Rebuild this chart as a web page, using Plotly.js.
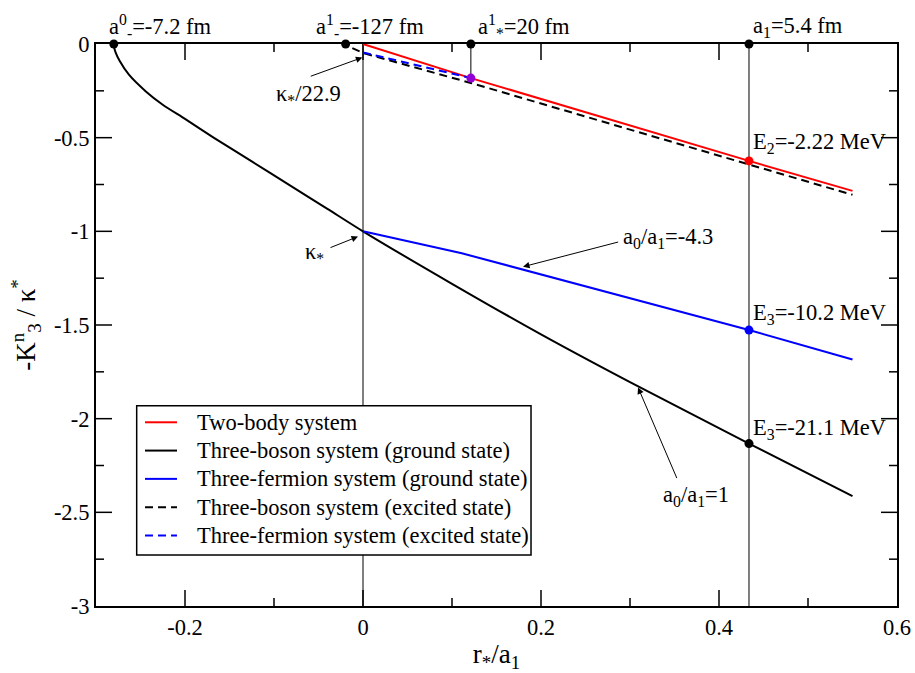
<!DOCTYPE html>
<html>
<head>
<meta charset="utf-8">
<script src="https://cdn.plot.ly/plotly-3.0.1.min.js"></script>
<style>html,body{margin:0;padding:0;background:#fff;}#chart{width:915px;height:673px;}</style>
</head>
<body>
<div id="chart"></div>
<script>
// ---- data ----
const twoBodyX = [0, 0.1212, 0.4337, 0.55];
const twoBodyY = [0, -0.182, -0.624, -0.784];

const bosonGroundX = [-0.280, -0.2795, -0.278, -0.2735, -0.263, -0.244, -0.225, -0.2, -0.167, -0.125, -0.083, -0.04, 0, 0.1, 0.2, 0.3, 0.4337, 0.55];
const bosonGroundY = [0, -0.02, -0.045, -0.09, -0.164, -0.253, -0.324, -0.40, -0.502, -0.627, -0.752, -0.88, -1.0, -1.28, -1.55, -1.805, -2.133, -2.414];

const fermionGroundX = [0, 0.111, 0.4337, 0.55];
const fermionGroundY = [-1, -1.117, -1.527, -1.684];

const bosonExcitedX = [-0.012, -0.006, 0, 0.1212, 0.4337, 0.55];
const bosonExcitedY = [-0.022, -0.036, -0.048, -0.208, -0.645, -0.805];

const fermionExcitedX = [0, 0.1212];
const fermionExcitedY = [-0.045, -0.182];

const thresholdX = [-0.28, -0.0195, 0.1212, 0.4337];
const thresholdY = [0, 0, 0, 0];

const physicalX = 0.4337;          // r*/a1 for a1 = 5.4 fm
const twoBodyPhysY = -0.624;
const fermionPhysY = -1.527;
const bosonPhysY = -2.133;
const starX = 0.1212;
const starY = -0.182;

const xRange = [-0.3, 0.6];
const yRange = [-3, 0];
const xTickVals = [-0.2, 0, 0.2, 0.4, 0.6];
const xTickText = ['-0.2', '0', '0.2', '0.4', '0.6'];
const xMinorVals = [-0.1, 0.1, 0.3, 0.5];
const yTickVals = [0, -0.5, -1, -1.5, -2, -2.5, -3];
const yTickText = ['0', '-0.5', '-1', '-1.5', '-2', '-2.5', '-3'];
const yMinorVals = [-0.25, -0.75, -1.25, -1.75, -2.25, -2.75];

const legendNames = ['Two-body system', 'Three-boson system (ground state)', 'Three-fermion system (ground state)', 'Three-boson system (excited state)', 'Three-fermion system (excited state)'];
const legendColors = ['#ff0000', '#000000', '#0000ff', '#000000', '#0000ff'];
const legendDash = ['solid', 'solid', 'solid', '8px,5px', '8px,5px'];

// ---- geometry ----
const W = 915, H = 673;
const M = {l: 96, r: 18, t: 44, b: 67};
const plotW = W - M.l - M.r, plotH = H - M.t - M.b;
const xPerPx = (xRange[1] - xRange[0]) / plotW;
const yPerPx = (yRange[1] - yRange[0]) / plotH;

const FONT = 'Liberation Serif';
const FS = 22.5;
const traces = [];

// ---- inside tick marks on all four sides, built from the tick arrays ----
const MAJOR = 16, MINOR = 8;
const tickX = [], tickY = [];
function addXTick(v, len) {
  tickX.push(v, v, null, v, v, null);
  tickY.push(yRange[0], yRange[0] + len * yPerPx, null, yRange[1], yRange[1] - len * yPerPx, null);
}
function addYTick(v, len) {
  tickX.push(xRange[0], xRange[0] + len * xPerPx, null, xRange[1], xRange[1] - len * xPerPx, null);
  tickY.push(v, v, null, v, v, null);
}
xTickVals.forEach(function (v) { if (v > xRange[0] && v < xRange[1]) addXTick(v, MAJOR); });
xMinorVals.forEach(function (v) { addXTick(v, MINOR); });
yTickVals.forEach(function (v) { if (v > yRange[0] && v < yRange[1]) addYTick(v, MAJOR); });
yMinorVals.forEach(function (v) { addYTick(v, MINOR); });
traces.push({x: tickX, y: tickY, mode: 'lines', connectgaps: false, line: {color: '#000', width: 1.5}, showlegend: false, hoverinfo: 'skip'});

// vertical reference lines
traces.push({x: [0, 0], y: [0, -3], mode: 'lines', line: {color: '#000', width: 1}, showlegend: false, hoverinfo: 'skip'});
traces.push({x: [physicalX, physicalX], y: [0, -3], mode: 'lines', line: {color: '#000', width: 1}, showlegend: false, hoverinfo: 'skip'});
traces.push({x: [starX, starX], y: [0, starY], mode: 'lines', line: {color: '#000', width: 1}, showlegend: false, hoverinfo: 'skip'});

// curves
traces.push({x: twoBodyX, y: twoBodyY, mode: 'lines', name: legendNames[0], line: {color: legendColors[0], width: 2}, showlegend: false});
traces.push({x: bosonGroundX, y: bosonGroundY, mode: 'lines', name: legendNames[1], line: {color: legendColors[1], width: 2, shape: 'spline', smoothing: 0.7}, showlegend: false});
traces.push({x: fermionGroundX, y: fermionGroundY, mode: 'lines', name: legendNames[2], line: {color: legendColors[2], width: 2}, showlegend: false});
traces.push({x: bosonExcitedX, y: bosonExcitedY, mode: 'lines', name: legendNames[3], line: {color: legendColors[3], width: 2, dash: legendDash[3]}, showlegend: false});
traces.push({x: fermionExcitedX, y: fermionExcitedY, mode: 'lines', name: legendNames[4], line: {color: legendColors[4], width: 2, dash: legendDash[4]}, showlegend: false});

// points
traces.push({x: thresholdX, y: thresholdY, mode: 'markers', marker: {color: '#000', size: 9}, showlegend: false, cliponaxis: false});
traces.push({x: [starX], y: [starY], mode: 'markers', marker: {color: '#9400d3', size: 9}, showlegend: false});
traces.push({x: [physicalX], y: [twoBodyPhysY], mode: 'markers', marker: {color: '#ff0000', size: 9}, showlegend: false});
traces.push({x: [physicalX], y: [fermionPhysY], mode: 'markers', marker: {color: '#0000ff', size: 9}, showlegend: false});
traces.push({x: [physicalX], y: [bosonPhysY], mode: 'markers', marker: {color: '#000000', size: 9}, showlegend: false});

// ---- annotations ----
function label(x, y, text, xanchor, xref, yref) {
  return {x: x, y: y, xref: xref || 'x', yref: yref || 'y', text: text, showarrow: false, xanchor: xanchor || 'left', yanchor: 'middle',
          font: {family: FONT, size: FS, color: '#000'}};
}
function arrow(xTip, yTip, xTail, yTail) {
  return {x: xTip, y: yTip, ax: xTail, ay: yTail, xref: 'x', yref: 'y', axref: 'x', ayref: 'y', text: '',
          showarrow: true, arrowhead: 2, arrowsize: 1.3, arrowwidth: 1, arrowcolor: '#000', standoff: 0, startstandoff: 0};
}
const TOPY = 1.031; // paper coordinate just above the plot frame
const annotations = [
  label(-0.2875, TOPY, 'a<sup>0</sup><sub>-</sub>=-7.2 fm', 'left', 'x', 'paper'),
  label(-0.0555, TOPY, 'a<sup>1</sup><sub>-</sub>=-127 fm', 'left', 'x', 'paper'),
  label(0.1275, TOPY, 'a<sup>1</sup><sub>*</sub>=20 fm', 'left', 'x', 'paper'),
  label(0.4355, TOPY, 'a<sub>1</sub>=5.4 fm', 'left', 'x', 'paper'),
  label(0.4365, -0.5275, 'E<sub>2</sub>=-2.22 MeV'),
  label(0.4365, -1.441, 'E<sub>3</sub>=-10.2 MeV'),
  label(0.4365, -2.056, 'E<sub>3</sub>=-21.1 MeV'),
  label(-0.0616, -0.271, 'κ<sub>*</sub>/22.9', 'center'),
  label(-0.0543, -1.115, 'κ<sub>*</sub>', 'center'),
  label(0.3424, -1.035, 'a<sub>0</sub>/a<sub>1</sub>=-4.3', 'center'),
  label(0.3736, -2.414, 'a<sub>0</sub>/a<sub>1</sub>=1', 'center'),
  arrow(-0.0007, -0.072, -0.0604, -0.175),
  arrow(-0.0056, -1.028, -0.0382, -1.090),
  arrow(0.1798, -1.189, 0.2884, -1.055),
  arrow(0.309, -1.833, 0.3533, -2.325)
];

// ---- hand-built legend box (paper coordinates) ----
const shapes = [];
const LG = {x0: 0.0508, x1: 0.5431, y0: 0.0907, y1: 0.3564, lineX0: 0.0612, lineX1: 0.1011, textX: 0.1236, firstY: 0.3269, step: 0.05035};
shapes.push({type: 'rect', xref: 'paper', yref: 'paper', x0: LG.x0, x1: LG.x1, y0: LG.y0, y1: LG.y1,
             fillcolor: '#fff', line: {color: '#000', width: 1.5}, layer: 'above'});
legendNames.forEach(function (name, i) {
  const yy = LG.firstY - i * LG.step;
  shapes.push({type: 'line', xref: 'paper', yref: 'paper', x0: LG.lineX0, x1: LG.lineX1, y0: yy, y1: yy,
               line: {color: legendColors[i], width: 2, dash: legendDash[i]}, layer: 'above'});
  annotations.push(label(LG.textX, yy, name, 'left', 'paper', 'paper'));
});

const axisCommon = {
  showgrid: false, zeroline: false, showline: true, linecolor: '#000', linewidth: 2, mirror: true,
  ticks: '', tickfont: {family: FONT, size: FS, color: '#000'}
};

const layout = {
  width: W, height: H,
  margin: M,
  paper_bgcolor: '#fff', plot_bgcolor: '#fff',
  font: {family: FONT, color: '#000'},
  showlegend: false,
  xaxis: Object.assign({}, axisCommon, {
    range: xRange, tickmode: 'array', tickvals: xTickVals, ticktext: xTickText,
    title: {text: 'r<sub>*</sub>/a<sub>1</sub>', font: {family: FONT, size: 27, color: '#000'}, standoff: 8}
  }),
  yaxis: Object.assign({}, axisCommon, {
    range: yRange, tickmode: 'array', tickvals: yTickVals, ticktext: yTickText,
    title: {text: '-K<sup>n</sup><sub>3</sub> / κ<sup>*</sup>', font: {family: FONT, size: 27, color: '#000'}, standoff: 10}
  }),
  shapes: shapes,
  annotations: annotations
};

Plotly.newPlot('chart', traces, layout, {displayModeBar: false, staticPlot: true});
</script>
</body>
</html>
